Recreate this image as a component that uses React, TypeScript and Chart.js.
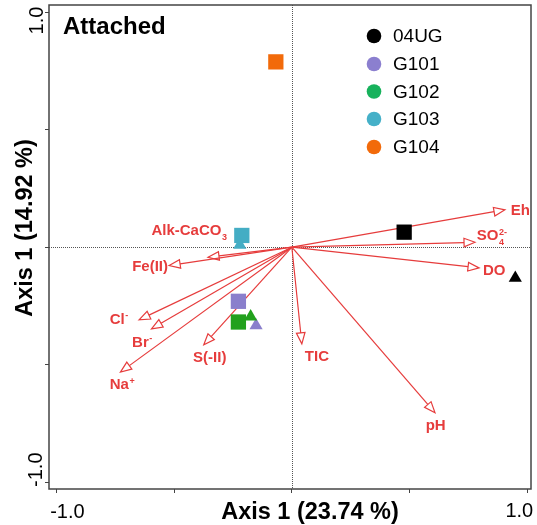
import React, { useEffect, useRef } from 'react';
import { Chart, registerables } from 'chart.js';

Chart.register(...registerables);

// ---------------- data ----------------
const siteNames = ['04UG', 'G101', 'G102', 'G103', 'G104'];
const legendColors = ['#000000', '#8b7fcf', '#17b25c', '#45b0c8', '#f26a0a'];
const markColors = ['#000000', '#8a7fcc', '#22a11d', '#44adc4', '#f26a0a'];

// square markers (one per site)
const squareX = [0.477, -0.227, -0.227, -0.2125, -0.068];
const squareY = [0.064, -0.230, -0.318, 0.050, 0.788];
// triangle markers (G104 has none)
const triangleX = [0.949, -0.152, -0.175, -0.221, null];
const triangleY = [-0.131, -0.333, -0.295, 0.010, null];

// environmental vectors
const varMain = ['Eh', 'SO', 'DO', 'TIC', 'pH', 'Alk-CaCO', 'Fe(II)', 'Cl', 'Br', 'Na', 'S(-II)'];
const varSub = ['', '4', '', '', '', '3', '', '', '', '', ''];
const varSup = ['', '2-', '', '', '', '', '', '-', '-', '+', ''];
const loadX = [0.905, 0.778, 0.795, 0.0425, 0.608, -0.356, -0.521, -0.649, -0.596, -0.728, -0.374];
const loadY = [0.159, 0.021, -0.088, -0.411, -0.704, -0.0425, -0.078, -0.309, -0.347, -0.531, -0.415];

const tickValues = [-1, -0.5, 0, 0.5, 1];
const xTitle = 'Axis 1 (23.74 %)';
const yTitle = 'Axis 1 (14.92 %)';
const panelTitle = 'Attached';

// ---------------- styles ----------------
const FONT = "'Liberation Sans', Arial, Helvetica, sans-serif";
const RED = '#e63c3c';
// label offsets from arrow tip (px): [dx to left edge, dy to middle]
const labelOffsets: [number, number][] = [
  [5.7, 1], [1.7, -6], [4, 2.7], [3, 12.7], [-9.3, 13.3], [-56.6, -26],
  [-37, 1.3], [-29.3, 0], [-19.4, 14], [-10.7, 13.2], [-10.7, 13.5],
];

const framePlugin = {
  id: 'framePlugin',
  beforeDatasetsDraw(chart: any) {
    const { ctx, chartArea: a, scales } = chart;
    const x0 = scales.x.getPixelForValue(0);
    const y0 = scales.y.getPixelForValue(0);
    ctx.save();
    // zero lines
    ctx.strokeStyle = '#555';
    ctx.lineWidth = 1;
    ctx.setLineDash([1, 1]);
    ctx.beginPath();
    ctx.moveTo(Math.round(x0) + 0.5, a.top);
    ctx.lineTo(Math.round(x0) + 0.5, a.bottom);
    ctx.moveTo(a.left, Math.round(y0) + 0.5);
    ctx.lineTo(a.right, Math.round(y0) + 0.5);
    ctx.stroke();
    ctx.setLineDash([]);
    // arrows
    ctx.strokeStyle = RED;
    ctx.lineWidth = 1.2;
    for (let i = 0; i < loadX.length; i++) {
      const tx = scales.x.getPixelForValue(loadX[i]);
      const ty = scales.y.getPixelForValue(loadY[i]);
      const dx = tx - x0, dy = ty - y0;
      const len = Math.hypot(dx, dy);
      const ux = dx / len, uy = dy / len;
      const hl = 11, hw = 4.3;
      const bx = tx - ux * hl, by = ty - uy * hl;
      ctx.beginPath();
      ctx.moveTo(x0, y0);
      ctx.lineTo(bx, by);
      ctx.stroke();
      ctx.beginPath();
      ctx.moveTo(tx, ty);
      ctx.lineTo(bx - uy * hw, by + ux * hw);
      ctx.lineTo(bx + uy * hw, by - ux * hw);
      ctx.closePath();
      ctx.fillStyle = '#ffffff';
      ctx.fill();
      ctx.stroke();
    }
    ctx.restore();
  },
  afterDraw(chart: any) {
    const { ctx, chartArea: a, scales } = chart;
    ctx.save();
    // frame
    ctx.strokeStyle = '#444';
    ctx.lineWidth = 1.5;
    ctx.strokeRect(a.left, a.top, a.right - a.left, a.bottom - a.top);

    // vector labels
    ctx.fillStyle = RED;
    ctx.textBaseline = 'middle';
    ctx.textAlign = 'left';
    for (let i = 0; i < loadX.length; i++) {
      const tx = scales.x.getPixelForValue(loadX[i]);
      const ty = scales.y.getPixelForValue(loadY[i]);
      const lx = tx + labelOffsets[i][0];
      const ly = ty + labelOffsets[i][1];
      ctx.font = `bold 15px ${FONT}`;
      ctx.fillText(varMain[i], lx, ly);
      const w = ctx.measureText(varMain[i]).width;
      ctx.font = `bold 9px ${FONT}`;
      if (varSub[i]) {
        ctx.fillText(varSub[i], lx + w + 0.5, ly + 6);
      }
      if (varSup[i]) {
        ctx.fillText(varSup[i], lx + w + 0.5, ly - 4);
      }
    }

    // panel title
    ctx.fillStyle = '#000';
    ctx.textBaseline = 'alphabetic';
    ctx.font = `bold 24px ${FONT}`;
    ctx.fillText(panelTitle, 63, 34);

    // legend
    ctx.textBaseline = 'middle';
    ctx.font = `19px ${FONT}`;
    const legY = [36, 64, 91.5, 119, 147];
    for (let i = 0; i < siteNames.length; i++) {
      ctx.fillStyle = legendColors[i];
      ctx.beginPath();
      ctx.arc(374, legY[i], 7.3, 0, Math.PI * 2);
      ctx.fill();
      ctx.fillStyle = '#000';
      ctx.fillText(siteNames[i], 393, legY[i] + 1);
    }

    // tick labels
    ctx.font = `20px ${FONT}`;
    ctx.textAlign = 'center';
    ctx.fillStyle = '#000';
    ctx.fillText('-1.0', scales.x.getPixelForValue(-1) + 11, 512);
    ctx.fillText('1.0', scales.x.getPixelForValue(1) - 8, 511);
    ctx.save();
    ctx.translate(37.5, scales.y.getPixelForValue(1) + 8.5);
    ctx.rotate(-Math.PI / 2);
    ctx.fillText('1.0', 0, 0);
    ctx.restore();
    ctx.save();
    ctx.translate(36, scales.y.getPixelForValue(-1) - 12.7);
    ctx.rotate(-Math.PI / 2);
    ctx.fillText('-1.0', 0, 0);
    ctx.restore();

    // axis titles
    ctx.font = `bold 23.5px ${FONT}`;
    ctx.textBaseline = 'alphabetic';
    ctx.fillText(xTitle, 310, 519);
    ctx.save();
    ctx.translate(31.5, 228);
    ctx.rotate(-Math.PI / 2);
    ctx.fillText(yTitle, 0, 0);
    ctx.restore();
    ctx.restore();
  },
};

export default function App() {
  const ref = useRef<HTMLCanvasElement | null>(null);
  useEffect(() => {
    if (!ref.current) return;
    const triData: any[] = [];
    const triColors: string[] = [];
    triangleX.forEach((x, i) => {
      if (x !== null && triangleY[i] !== null) {
        triData.push({ x, y: triangleY[i] });
        triColors.push(markColors[i]);
      }
    });
    const sqData = squareX.map((x, i) => ({ x, y: squareY[i] }));
    const setTicks = (scale: any) => {
      scale.ticks = tickValues.map((v) => ({ value: v }));
    };
    const chart = new Chart(ref.current, {
      type: 'scatter',
      data: {
        datasets: [
          {
            label: 'triangles',
            data: triData,
            pointStyle: 'triangle',
            pointRadius: 7.6,
            pointBackgroundColor: triColors,
            pointBorderWidth: 0,
            pointBorderColor: triColors,
          },
          {
            label: 'squares',
            data: sqData,
            pointStyle: 'rect',
            pointRadius: 10.8,
            pointBackgroundColor: markColors,
            pointBorderWidth: 0,
            pointBorderColor: markColors,
          },
        ],
      },
      options: {
        animation: false,
        responsive: false,
        events: [],
        devicePixelRatio: 1,
        layout: { autoPadding: false, padding: { left: 0, top: 5, right: 6, bottom: 0 } },
        plugins: { legend: { display: false }, tooltip: { enabled: false } },
        scales: {
          x: {
            type: 'linear',
            min: -1.0314,
            max: 1.0157,
            afterBuildTicks: setTicks,
            afterFit: (s: any) => { s.height = 36; },
            border: { display: false },
            grid: { display: true, drawOnChartArea: false, drawTicks: true, tickLength: 4, tickColor: '#444', tickWidth: 1 },
            ticks: { display: false },
          },
          y: {
            type: 'linear',
            min: -1.028,
            max: 1.0298,
            afterBuildTicks: setTicks,
            afterFit: (s: any) => { s.width = 49; },
            border: { display: false },
            grid: { display: true, drawOnChartArea: false, drawTicks: true, tickLength: 4, tickColor: '#444', tickWidth: 1 },
            ticks: { display: false },
          },
        },
      },
      plugins: [framePlugin],
    });
    return () => chart.destroy();
  }, []);
  return (
    <div style={{ position: 'absolute', left: 0, top: 0, width: 537, height: 525, background: '#fff' }}>
      <canvas ref={ref} width={537} height={525} style={{ display: 'block' }} />
    </div>
  );
}
